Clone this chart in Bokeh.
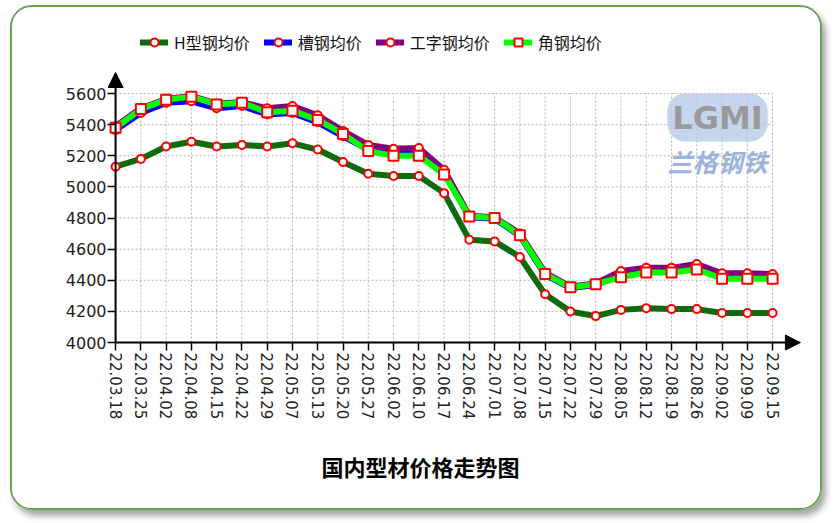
from bokeh.plotting import figure
from bokeh.models import FixedTicker, Legend, LegendItem, Arrow, NormalHead, Label, Title
from bokeh.embed import file_html
from bokeh.resources import INLINE

# ---------------- data ----------------
dates = ["22.03.18", "22.03.25", "22.04.02", "22.04.08", "22.04.15", "22.04.22",
         "22.04.29", "22.05.07", "22.05.13", "22.05.20", "22.05.27", "22.06.02",
         "22.06.10", "22.06.17", "22.06.24", "22.07.01", "22.07.08", "22.07.15",
         "22.07.22", "22.07.29", "22.08.05", "22.08.12", "22.08.19", "22.08.26",
         "22.09.02", "22.09.09", "22.09.15"]

y_ticks = [4000, 4200, 4400, 4600, 4800, 5000, 5200, 5400, 5600]

series_names = ["H型钢均价", "槽钢均价", "工字钢均价", "角钢均价"]

chart_title = "国内型材价格走势图"

h_price = [5130, 5180, 5260, 5290, 5260, 5270, 5260, 5280, 5240, 5160, 5085, 5070,
           5070, 4960, 4660, 4650, 4550, 4310, 4200, 4170, 4210, 4220, 4215, 4215,
           4190, 4190, 4190]

channel_price = [5365, 5475, 5540, 5550, 5505, 5520, 5465, 5475, 5415, 5325, 5240, 5220,
                 5225, 5095, 4805, 4795, 4685, 4435, 4350, 4370, 4435, 4465, 4465, 4485,
                 4425, 4425, 4425]

ibeam_price = [5390, 5505, 5565, 5585, 5535, 5545, 5505, 5520, 5460, 5360, 5270, 5245,
               5250, 5110, 4815, 4805, 4700, 4450, 4360, 4380, 4460, 4480, 4480, 4505,
               4445, 4445, 4440]

angle_price = [5380, 5500, 5560, 5580, 5530, 5540, 5480, 5490, 5430, 5340, 5230, 5200,
               5200, 5080, 4810, 4800, 4690, 4440, 4355, 4375, 4420, 4450, 4450, 4470,
               4410, 4410, 4410]

x = list(range(len(dates)))

# ---------------- figure ----------------
# a little room left of / below the axes so the arrow heads are not clipped
p = figure(width=812, height=505, output_backend="svg", toolbar_location=None,
           x_range=(x[0] - 0.32, x[-1] + 1.5), y_range=(y_ticks[0] - 51, y_ticks[-1] + 437),
           min_border_left=95, min_border_right=14, min_border_top=18,
           min_border_bottom=162)
p.styles = {"border": "2px solid #64a552", "border-radius": "22px",
            "box-shadow": "4px 6px 6px rgba(0,0,0,0.35)", "overflow": "hidden",
            "margin-left": "10px", "margin-top": "5px"}
p.outline_line_color = None
p.background_fill_color = "white"
p.border_fill_color = "white"

# axes (lines drawn by the arrows, ticks reach from frame edge to the axis line)
for ax in (p.xaxis[0], p.yaxis[0]):
    ax.axis_line_color = None
    ax.major_tick_line_color = "black"
    ax.major_tick_line_width = 1.5
    ax.major_tick_out = 0
    ax.major_tick_in = 8
    ax.minor_tick_line_color = None
    ax.major_label_text_color = "#222222"
    ax.major_label_text_font = "DejaVu Sans"

p.xaxis.ticker = FixedTicker(ticks=x)
p.xaxis.major_label_overrides = {i: d for i, d in enumerate(dates)}
p.xaxis.major_label_orientation = "vertical"
p.xaxis.major_label_text_font_size = "15px"
p.xaxis.major_label_standoff = 2

p.yaxis.ticker = FixedTicker(ticks=y_ticks)
p.yaxis.major_label_text_font_size = "16px"
p.yaxis.major_label_standoff = 1

# dotted grid limited to the data area
p.xgrid.visible = False
p.ygrid.visible = False
grid_style = dict(line_color="#b4b4b4", line_dash="2 2", line_width=1)
p.segment(x0=x[1:], y0=[y_ticks[0]] * (len(x) - 1), x1=x[1:],
          y1=[y_ticks[-1]] * (len(x) - 1), **grid_style)
p.segment(x0=[x[0]] * (len(y_ticks) - 1), y0=y_ticks[1:],
          x1=[x[-1]] * (len(y_ticks) - 1), y1=y_ticks[1:], **grid_style)

# axis lines with arrow heads
head = dict(size=15, fill_color="black", line_color="black")
p.add_layout(Arrow(end=NormalHead(**head), x_start=x[0], y_start=y_ticks[0],
                   x_end=x[0], y_end=y_ticks[-1] + 135, line_width=2, line_color="black"))
p.add_layout(Arrow(end=NormalHead(**head), x_start=x[0], y_start=y_ticks[0],
                   x_end=x[-1] + 1.1, y_end=y_ticks[0], line_width=2, line_color="black"))

# logo watermark
p.add_layout(Label(x=610, y=233, x_units="screen", y_units="screen", text="LGMI",
                   text_align="center", text_baseline="middle", text_font="DejaVu Sans",
                   text_font_size="32px", text_font_style="bold", text_color="#9a9a9a",
                   background_fill_color="#b7cbe9", background_fill_alpha=0.8,
                   border_radius=18, padding=5))
p.add_layout(Label(x=610, y=190, x_units="screen", y_units="screen", text="兰格钢铁",
                   text_align="center", text_baseline="middle", text_font="Noto Sans CJK SC",
                   text_font_size="25px", text_font_style="bold italic", text_color="#9cb3dc"))

# series
colors = ["#0d6b0d", "#0000ff", "#800080", "#00ff00"]
values = [h_price, channel_price, ibeam_price, angle_price]
markers = ["circle", "circle", "circle", "square"]
msizes = [8, 8, 8, 10]
items = []
for name, vals, col, mk, ms in zip(series_names, values, colors, markers, msizes):
    ln = p.line(x, vals, line_color=col, line_width=6, line_join="round", line_cap="round")
    sc = p.scatter(x, vals, marker=mk, size=ms, fill_color="white", line_color="#ff0000",
                   line_width=2)
    items.append(LegendItem(label=name, renderers=[ln, sc]))

legend = Legend(items=items, orientation="horizontal", location=(33, 296),
                label_text_font="Noto Sans CJK SC", label_text_font_size="16px",
                label_text_color="#111111", border_line_color=None,
                background_fill_alpha=0, glyph_width=28, glyph_height=20,
                label_standoff=6, spacing=14, padding=0, margin=0)
p.add_layout(legend, "center")

# chart title below the date labels
p.add_layout(Title(text=chart_title, align="left", offset=214, standoff=50,
                   text_font="Noto Sans CJK SC", text_font_size="22px",
                   text_font_style="bold", text_color="black"), "below")

open("out.html", "w").write(file_html(p, INLINE))
